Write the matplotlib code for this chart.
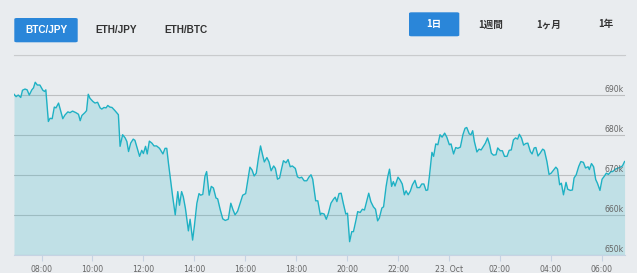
import matplotlib
matplotlib.use("Agg")
import matplotlib.pyplot as plt
import matplotlib.dates as mdates
import matplotlib.transforms as mtransforms
from matplotlib.patches import FancyBboxPatch
import pandas as pd

BACKGROUND = "#e9ecef"
LINE_COLOR = "#1eb1c4"
GRID_COLOR = "#bdbfc1"
AXIS_COLOR = "#c6d3e3"
LABEL_COLOR = "#666666"
BUTTON_BLUE = "#2a86d9"
DARK_TEXT = "#333333"

START_TIME = "2017-10-22 06:55"

# minutes after START_TIME, price in thousand yen
minutes_from_start = [
    0, 5, 10, 16, 20, 26, 31, 36, 42, 46, 50, 55, 61, 68, 72, 75, 81, 85, 90, 95,
    99, 105, 110, 115, 120, 127, 132, 138, 146, 152, 156, 160, 167, 171, 175, 179,
    186, 191, 197, 203, 207, 212, 217, 221, 226, 231, 238, 246, 250, 256, 262, 266,
    270, 275, 281, 285, 291, 296, 301, 305, 310, 314, 319, 325, 330, 336, 343, 351,
    356, 360, 364, 369, 374, 380, 386, 390, 395, 399, 404, 411, 415, 421, 425, 431,
    436, 440, 445, 450, 454, 460, 465, 470, 476, 480, 486, 492, 498, 505, 511, 516,
    521, 527, 533, 539, 546, 553, 556, 561, 566, 571, 576, 581, 586, 590, 596, 601,
    606, 612, 616, 621, 626, 630, 635, 641, 646, 651, 656, 663, 668, 673, 678, 684,
    690, 695, 700, 704, 711, 716, 722, 725, 731, 736, 741, 747, 753, 757, 761, 766,
    771, 776, 782, 786, 791, 796, 800, 806, 810, 816, 821, 826, 831, 836, 841, 847,
    852, 857, 861, 867, 871, 877, 881, 885, 890, 894, 898, 905, 910, 915, 920, 924,
    929, 934, 939, 945, 950, 956, 961, 966, 971, 975, 979, 985, 989, 994, 999, 1004,
    1009, 1015, 1020, 1026, 1030, 1036, 1041, 1046, 1052, 1058, 1063, 1067, 1073,
    1077, 1081, 1085, 1091, 1096, 1101, 1107, 1111, 1116, 1121, 1125, 1130, 1136,
    1140, 1146, 1151, 1156, 1162, 1167, 1172, 1177, 1182, 1187, 1191, 1196, 1201,
    1206, 1211, 1217, 1221, 1226, 1230, 1235, 1240, 1246, 1250, 1256, 1261, 1266,
    1272, 1277, 1281, 1286, 1290, 1295, 1301, 1305, 1311, 1316, 1320, 1325, 1331,
    1336, 1342, 1347, 1353, 1356, 1361, 1366, 1371, 1375, 1381, 1386, 1391, 1396,
    1401, 1407, 1411, 1417, 1422, 1429, 1434, 1439,
]
price_k = [
    690.2, 689.6, 690.0, 689.4, 691.2, 691.5, 691.3, 690.0, 691.3, 691.8, 693.2,
    692.5, 692.5, 691.2, 690.9, 691.3, 683.4, 684.2, 684.1, 687.0, 686.8, 688.0,
    686.0, 684.1, 685.0, 685.8, 685.6, 686.0, 685.6, 685.2, 683.6, 684.9, 685.6,
    686.1, 690.2, 689.2, 688.4, 688.0, 688.2, 686.8, 686.5, 686.9, 686.8, 687.4,
    687.0, 686.9, 686.1, 685.1, 677.2, 680.1, 679.3, 678.4, 675.9, 678.0, 679.0,
    678.7, 676.5, 674.7, 676.2, 675.4, 677.2, 675.3, 678.5, 678.0, 677.3, 677.3,
    676.7, 675.3, 676.7, 676.7, 673.0, 668.8, 664.6, 660.1, 665.9, 662.5, 665.9,
    664.6, 661.7, 656.1, 659.0, 653.8, 657.2, 663.0, 665.4, 665.0, 665.2, 669.7,
    670.9, 665.0, 667.2, 666.8, 664.3, 664.1, 661.4, 659.1, 658.7, 659.0, 663.0,
    661.4, 660.1, 661.0, 663.0, 665.0, 665.4, 670.1, 672.0, 671.3, 669.8, 670.5,
    674.2, 677.3, 675.0, 673.3, 674.4, 673.3, 671.1, 672.3, 671.7, 669.0, 669.3,
    671.3, 673.6, 673.1, 673.9, 672.1, 672.3, 671.7, 669.6, 669.3, 669.5, 668.6,
    668.6, 669.5, 670.1, 669.0, 663.6, 663.6, 660.1, 660.5, 660.3, 659.0, 660.5,
    663.0, 664.0, 664.5, 663.4, 665.4, 665.5, 663.0, 660.3, 660.5, 653.4, 655.9,
    655.9, 658.8, 660.9, 660.7, 661.5, 661.3, 663.4, 665.5, 663.4, 662.1, 661.5,
    658.6, 659.3, 661.8, 662.1, 667.2, 669.7, 671.5, 667.2, 668.4, 667.3, 669.5,
    668.8, 667.8, 665.1, 666.1, 665.1, 666.0, 667.6, 668.7, 666.9, 666.9, 667.8,
    667.8, 666.2, 666.3, 669.7, 675.7, 674.7, 677.8, 677.6, 680.1, 679.5, 680.5,
    679.5, 677.6, 677.8, 675.3, 676.9, 676.7, 677.0, 680.1, 681.7, 681.9, 680.3,
    680.1, 681.1, 678.4, 675.8, 676.5, 676.3, 677.3, 678.0, 679.3, 677.6, 675.5,
    675.0, 675.1, 676.8, 676.1, 676.1, 674.7, 674.7, 676.2, 676.3, 678.8, 679.3,
    679.0, 680.2, 679.3, 677.5, 677.9, 678.0, 675.9, 675.3, 676.8, 676.9, 674.8,
    675.5, 676.5, 676.2, 673.4, 670.2, 670.5, 671.3, 672.0, 671.5, 667.6, 668.0,
    665.1, 668.2, 666.5, 666.2, 666.3, 669.3, 670.1, 672.2, 673.4, 673.2, 671.8,
    672.1, 671.4, 672.9, 672.1, 668.9, 668.0, 666.2, 669.0, 669.7, 670.5, 670.2,
    670.9, 670.9, 671.5, 671.7, 672.0, 672.3, 673.4,
]

y_ticks = [650, 660, 670, 680, 690, 700]
y_tick_labels = ["650k", "660k", "670k", "680k", "690k"]

pair_buttons = ["BTC/JPY", "ETH/JPY", "ETH/BTC"]
range_buttons = ["1日", "1週間", "1ヶ月", "1年"]

FIG_W, FIG_H = 637, 273


def px_box(x0, y0, x1, y1):
    """Figure-fraction rectangle from pixel corners (top-left origin)."""
    return x0 / FIG_W, 1 - y1 / FIG_H, (x1 - x0) / FIG_W, (y1 - y0) / FIG_H


figure = plt.figure(figsize=(FIG_W / 100, FIG_H / 100), dpi=100)
figure.patch.set_facecolor(BACKGROUND)

axis = figure.add_axes(px_box(14, 55, 625, 255.3))
axis.set_facecolor(BACKGROUND)

times = pd.Timestamp(START_TIME) + pd.to_timedelta(minutes_from_start, unit="m")
axis.fill_between(times, price_k, y_ticks[0], color=LINE_COLOR, alpha=0.2,
                  linewidth=0, zorder=2)
axis.plot(times, price_k, color=LINE_COLOR, linewidth=1.0, zorder=3)

axis.set_xlim(pd.Timestamp(START_TIME), pd.Timestamp(START_TIME) + pd.Timedelta(hours=24))
axis.set_ylim(y_ticks[0], y_ticks[-1])

axis.set_yticks(y_ticks)
axis.yaxis.set_tick_params(length=0, labelleft=False)
axis.grid(axis="y", color=GRID_COLOR, linewidth=0.8, zorder=1)
axis.set_axisbelow(True)

label_offset = mtransforms.offset_copy(
    axis.get_yaxis_transform(), fig=figure, x=-1, y=1.5, units="dots")
for value, text in zip(y_ticks, y_tick_labels):
    axis.text(1.0, value, text, transform=label_offset, ha="right", va="bottom",
              fontsize=5.6, color=LABEL_COLOR, zorder=4)


def time_label(value, _pos):
    moment = mdates.num2date(value)
    if moment.hour == 0:
        return f"{moment.day}. {moment.strftime('%b')}"
    return moment.strftime("%H:%M")


axis.xaxis.set_major_locator(mdates.HourLocator(byhour=range(0, 24, 2)))
axis.xaxis.set_major_formatter(plt.FuncFormatter(time_label))
axis.tick_params(axis="x", length=4, width=0.8, color=AXIS_COLOR, pad=3,
                 labelsize=5.6, labelcolor=LABEL_COLOR)

for side in ("top", "left", "right"):
    axis.spines[side].set_visible(False)
axis.spines["bottom"].set_color(AXIS_COLOR)
axis.spines["bottom"].set_linewidth(0.8)

# top separator line above the chart
figure.add_artist(plt.Line2D([14 / FIG_W, 625 / FIG_W], [1 - 54.5 / FIG_H] * 2,
                             color="#c9cbcd", linewidth=0.8))


def draw_button(x0, y0, x1, y1):
    left, bottom, width, height = px_box(x0, y0, x1, y1)
    figure.patches.append(FancyBboxPatch(
        (left, bottom), width, height, boxstyle="round,pad=0,rounding_size=0.004",
        transform=figure.transFigure, facecolor=BUTTON_BLUE, edgecolor="none"))


draw_button(14.3, 18, 77.7, 42.3)
draw_button(409, 12.3, 459.3, 36.3)

pair_centers = [46, 115.7, 185.7]
for index, (label, center) in enumerate(zip(pair_buttons, pair_centers)):
    figure.text(center / FIG_W, 1 - 30.3 / FIG_H, label, ha="center", va="center",
                fontsize=7.2, fontweight="bold", family="Liberation Sans",
                color="white" if index == 0 else DARK_TEXT)

range_centers = [434, 491, 548.3, 605.7]
for index, (label, center) in enumerate(zip(range_buttons, range_centers)):
    figure.text(center / FIG_W, 1 - 24.5 / FIG_H, label, ha="center", va="center",
                fontsize=6.9, fontweight="bold",
                family=["Noto Sans CJK JP", "DejaVu Sans"],
                color="white" if index == 0 else DARK_TEXT)

figure.savefig("out.png", dpi=100, facecolor=BACKGROUND)
